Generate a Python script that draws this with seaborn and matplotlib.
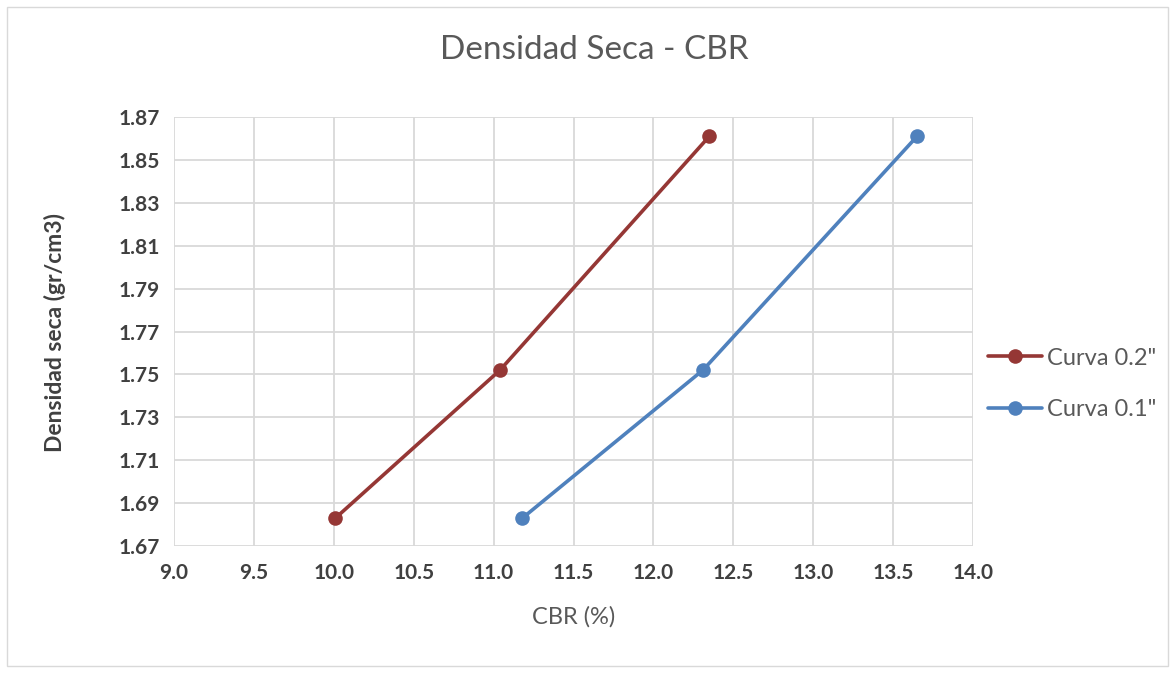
import matplotlib
matplotlib.use("Agg")
import matplotlib.pyplot as plt
import seaborn as sns
import pandas as pd
from matplotlib.patches import Rectangle

density = [1.683, 1.752, 1.861]
cbr_02 = [10.01, 11.04, 12.35]
cbr_01 = [11.18, 12.31, 13.65]
series_names = ['Curva 0.2"', 'Curva 0.1"']
x_ticks = [9.0, 9.5, 10.0, 10.5, 11.0, 11.5, 12.0, 12.5, 13.0, 13.5, 14.0]
y_ticks = [1.67, 1.69, 1.71, 1.73, 1.75, 1.77, 1.79, 1.81, 1.83, 1.85, 1.87]

df = pd.DataFrame({
    "cbr": cbr_02 + cbr_01,
    "dens": density + density,
    "serie": [series_names[0]] * 3 + [series_names[1]] * 3,
})

sns.set_style("white")
plt.rcParams['font.family'] = ['Lato', 'DejaVu Sans']

W, H = 1176, 673
fig = plt.figure(figsize=(W/100, H/100), dpi=100)
ax = fig.add_axes([174/W, 1 - 546/H, (973-174)/W, (546-117)/H])

palette = {series_names[0]: "#953735", series_names[1]: "#4F81BD"}
sns.lineplot(data=df, x="cbr", y="dens", hue="serie", palette=palette, sort=False,
             marker="o", markersize=10.5, markeredgewidth=0, linewidth=2.6, ax=ax,
             estimator=None)

ax.set_xlim(9.0, 14.0)
ax.set_ylim(1.67, 1.87)
ax.set_xticks(x_ticks)
ax.set_yticks(y_ticks)
ax.set_xticklabels([f"{v:.1f}" for v in x_ticks], fontsize=15, fontweight="bold", color="#404040")
ax.set_yticklabels([f"{v:.2f}" for v in y_ticks], fontsize=15, fontweight="bold", color="#404040")
ax.tick_params(axis="x", length=0, pad=12)
ax.tick_params(axis="y", length=0, pad=10)
ax.grid(True, color="#D9D9D9", linewidth=1.3)
ax.set_axisbelow(True)
for s in ax.spines.values():
    s.set_visible(False)

ax.set_xlabel("")
ax.set_ylabel("")
fig.text(574/W, 1 - 617/H, "CBR (%)", fontsize=17, color="#595959", ha="center", va="center")
fig.text(55/W, 1 - 333/H, "Densidad seca (gr/cm3)", fontsize=16.5, fontweight="bold",
         color="#404040", ha="center", va="center", rotation=90)
fig.text(594/W, 1 - 50/H, "Densidad Seca - CBR", fontsize=24,
         color="#595959", ha="center", va="center")

leg = ax.legend(loc="center left", bbox_to_anchor=(988/W, 1 - 384/H),
                bbox_transform=fig.transFigure, frameon=False, borderpad=0, borderaxespad=0,
                fontsize=17, labelspacing=1.3, handlelength=2.3, handletextpad=0.2)
for t in leg.get_texts():
    t.set_color("#595959")

fig.patches.append(Rectangle((7/W, 7/H), (1168-7)/W, (666-7)/H, transform=fig.transFigure,
                             fill=False, edgecolor="#D9D9D9", linewidth=1.0))

fig.savefig("out.png", dpi=100)
